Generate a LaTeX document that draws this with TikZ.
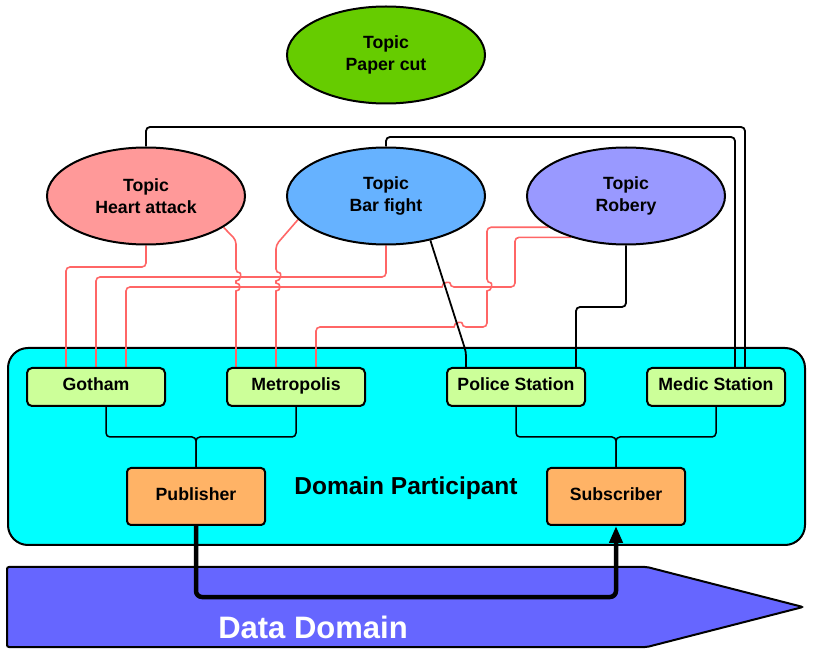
\documentclass[tikz,border=0pt]{standalone}
\usepackage{fontspec}
\setmainfont{Liberation Sans}
\usetikzlibrary{shapes.geometric,arrows.meta}
\definecolor{cpaper}{HTML}{66CC00}
\definecolor{cheart}{HTML}{FF9999}
\definecolor{cbar}{HTML}{66B2FF}
\definecolor{crob}{HTML}{9999FF}
\definecolor{cdp}{HTML}{00FFFF}
\definecolor{cgreen}{HTML}{CCFF99}
\definecolor{corange}{HTML}{FFB366}
\definecolor{cdd}{HTML}{6666FF}
\definecolor{cred}{HTML}{FF6666}
\pgfdeclarelayer{bg}
\pgfdeclarelayer{lines}
\pgfsetlayers{bg,lines,main}
\begin{document}
\begin{tikzpicture}[x=1pt,y=-1pt,
  topic/.style={ellipse,draw,line width=2pt,minimum width=198pt,minimum height=97pt,
    inner sep=0pt,align=center,font=\bfseries\fontsize{17.7}{22}\selectfont},
  greenbox/.style={rectangle,draw,line width=2pt,rounded corners=5pt,fill=cgreen,
    minimum width=138pt,minimum height=38pt,inner sep=0pt,text height=13pt,text depth=6.5pt,
    font=\bfseries\fontsize{17.7}{22}\selectfont},
  orangebox/.style={rectangle,draw,line width=2pt,rounded corners=4pt,fill=corange,
    minimum width=138pt,minimum height=57pt,inner sep=0pt,text height=13pt,text depth=5pt,
    font=\bfseries\fontsize{17.7}{22}\selectfont},
  dpbox/.style={rectangle,draw,line width=2pt,rounded corners=20pt,fill=cdp,
    minimum width=797pt,minimum height=197pt},
  redline/.style={draw=cred,line width=1.6pt,rounded corners=4pt},
  blackline/.style={draw=black,line width=1.8pt,rounded corners=4pt},
  treeline/.style={draw=black,line width=1.5pt,rounded corners=4pt},
]
\useasboundingbox (0,0) rectangle (815,652);

\begin{pgfonlayer}{bg}
\node[dpbox] (dp) at (406.5,446.5) {};
\draw[fill=cdd,line width=2pt,rounded corners=2pt] (7,567) -- (647,567) -- (803,607) -- (647,647) -- (7,647) -- cycle;
\end{pgfonlayer}

% topics
\node[topic,fill=cpaper] (pc) at (386,55) {Topic\\Paper cut};
\node[topic,fill=cheart] (ha) at (146,196) {Topic\\Heart attack};
\node[topic,fill=cbar] (bf) at (386,196) {Topic\\Bar fight};
\node[topic,fill=crob] (rb) at (626,196) {Topic\\Robery};

% participants
\node[greenbox] (got) at (96,387) {Gotham};
\node[greenbox] (met) at (296,387) {Metropolis};
\node[greenbox] (ps) at (516,387) {Police Station};
\node[greenbox] (ms) at (716,387) {Medic Station};
\node[orangebox] (pub) at (196,496.5) {Publisher};
\node[orangebox] (sub) at (616,496.5) {Subscriber};

\node[font=\bfseries\fontsize{24.5}{28}\selectfont] (dplabel) at (406,488) {Domain Participant};
\node[font=\bfseries\fontsize{31}{36}\selectfont,text=white] (ddlabel) at (313,627) {Data Domain};

\begin{pgfonlayer}{lines}
% red connectors
\draw[redline] (ha.south) |- (66,267) -- (got.north -| 66,0);
\draw[redline] (bf.south) |- (96,277) -- (got.north -| 96,0);
\draw[redline] (rb.217) -- (rb.217 -| 515,0) -- (515,287) -- (450,287)
  [sharp corners] .. controls (450,281.7) and (442,281.7) .. (442,287)
  [rounded corners=4pt] -- (126,287) -- (got.north -| 126,0);
\draw[redline] (rb.202) -- (rb.202 -| 487,0) -- (487,283)
  [sharp corners] .. controls (492.3,283) and (492.3,291) .. (487,291)
  [rounded corners=4pt] -- (487,327) -- (462,327)
  [sharp corners] .. controls (462,321.7) and (454,321.7) .. (454,327)
  [rounded corners=4pt] -- (316,327) -- (met.north -| 316,0);
\draw[redline] (ha.-22) -- (236,240) -- (236,273)
  [sharp corners] .. controls (241.3,273) and (241.3,281) .. (236,281)
  -- (236,283) .. controls (241.3,283) and (241.3,291) .. (236,291)
  [rounded corners=4pt] -- (met.north -| 236,0);
\draw[redline] (bf.195) -- (276,245) -- (276,273)
  [sharp corners] .. controls (281.3,273) and (281.3,281) .. (276,281)
  -- (276,283) .. controls (281.3,283) and (281.3,291) .. (276,291)
  [rounded corners=4pt] -- (met.north -| 276,0);
% black connectors
\draw[blackline] (bf.-45) -- (466,352) -- (ps.north -| 466,0);
\draw[blackline] (rb.south) |- (576,307) -- (ps.north -| 576,0);
\draw[blackline] (ha.north) |- (745,127) -- (ms.north -| 745,0);
\draw[blackline] (bf.north) |- (735,137) -- (ms.north -| 735,0);
% tree connectors
\draw[treeline] (got.south -| 106,0) |- (196,437) -- (pub.north);
\draw[treeline] (met.south) |- (196,437) -- (pub.north);
\draw[treeline] (ps.south) |- (616,437) -- (sub.north);
\draw[treeline] (ms.south) |- (616,437) -- (sub.north);
% data flow
\draw[line width=4.5pt,rounded corners=6pt,-{Triangle[length=17pt,width=13pt]}]
  (pub.south) -- (pub.south |- 0,597) -| (sub.south);
\end{pgfonlayer}
\end{tikzpicture}
\end{document}
